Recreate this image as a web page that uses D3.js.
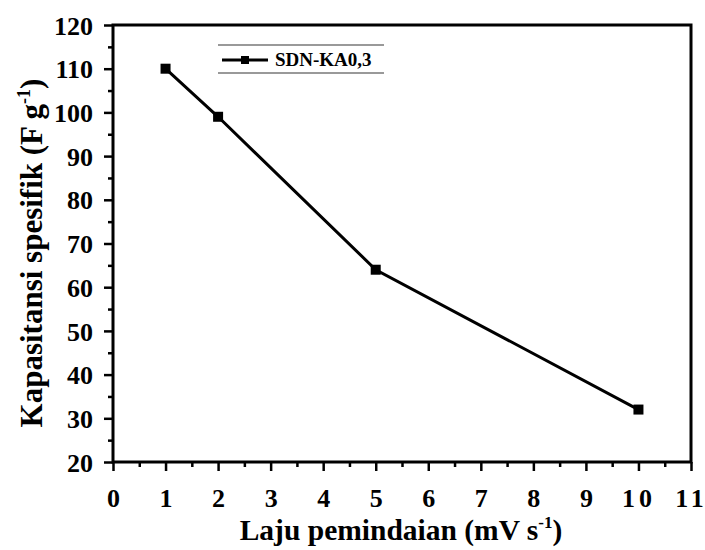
<!DOCTYPE html>
<html>
<head>
<meta charset="utf-8">
<script src="https://cdn.jsdelivr.net/npm/d3@7"></script>
<style>
    body { margin: 0; background: #fff; }
    text { font-family: "Liberation Serif", "Times New Roman", serif; font-weight: bold; fill: #000; }
</style>
</head>
<body>
<div id="chart"></div>
<script>
var scanRates = [1, 2, 5, 10];
var capacitance = [110, 99, 64, 32];
var seriesName = 'SDN-KA0,3';
var xTicks = [0, 1, 2, 3, 4, 5, 6, 7, 8, 9, 10, 11];
var yTicks = [20, 30, 40, 50, 60, 70, 80, 90, 100, 110, 120];

var width = 705, height = 550;
// plot box edges (window.top is taken, so no plain "top")
var pLeft = 113, pRight = 691, pTop = 25, pBottom = 462;

var svg = d3.select('#chart').append('svg').attr('width', width).attr('height', height);

var x = d3.scaleLinear().domain([0, 11]).range([pLeft, pRight]);
var y = d3.scaleLinear().domain([20, 120]).range([pBottom, pTop]);

// minor ticks sit half way between the majors
var xMinor = d3.range(0.5, 11, 1);
var yMinor = d3.range(25, 120, 10);

var xAxis = svg.append('g').attr('transform', 'translate(0,' + pBottom + ')')
    .call(d3.axisBottom(x).tickValues(xTicks).tickSize(9).tickPadding(18).tickFormat(d3.format('d')));
svg.append('g').attr('transform', 'translate(0,' + pBottom + ')')
    .call(d3.axisBottom(x).tickValues(xMinor).tickSize(5).tickFormat(''));

var yAxis = svg.append('g').attr('transform', 'translate(' + pLeft + ',0)')
    .call(d3.axisLeft(y).tickValues(yTicks).tickSize(9).tickPadding(11).tickFormat(d3.format('d')));
svg.append('g').attr('transform', 'translate(' + pLeft + ',0)')
    .call(d3.axisLeft(y).tickValues(yMinor).tickSize(5).tickFormat(''));

svg.selectAll('.domain').remove();
svg.selectAll('.tick line').attr('stroke', '#000').attr('stroke-width', 2.5);
xAxis.selectAll('.tick text').style('font-size', '26px').attr('dy', '0.71em')
    .style('letter-spacing', function (d) { return d >= 10 ? '4px' : null; });
yAxis.selectAll('.tick text').style('font-size', '26px').attr('dy', '0.35em');

// frame
svg.append('rect')
    .attr('x', pLeft).attr('y', pTop)
    .attr('width', pRight - pLeft).attr('height', pBottom - pTop)
    .attr('fill', 'none').attr('stroke', '#000').attr('stroke-width', 3);

var pts = scanRates.map(function (d, i) { return [d, capacitance[i]]; });

svg.append('path')
    .datum(pts)
    .attr('fill', 'none').attr('stroke', '#000').attr('stroke-width', 3)
    .attr('d', d3.line().x(function (d) { return x(d[0]); }).y(function (d) { return y(d[1]); }));

svg.selectAll('.pt').data(pts).enter().append('rect')
    .attr('class', 'pt')
    .attr('x', function (d) { return x(d[0]) - 5; })
    .attr('y', function (d) { return y(d[1]) - 5; })
    .attr('width', 10).attr('height', 10)
    .attr('fill', '#000');

// legend
var lg = svg.append('g');
lg.append('line').attr('x1', 218).attr('x2', 384).attr('y1', 45).attr('y2', 45).attr('stroke', '#777').attr('stroke-width', 1.5);
lg.append('line').attr('x1', 218).attr('x2', 384).attr('y1', 73).attr('y2', 73).attr('stroke', '#777').attr('stroke-width', 1.5);
lg.append('line').attr('x1', 222).attr('x2', 268).attr('y1', 60).attr('y2', 60).attr('stroke', '#000').attr('stroke-width', 3);
lg.append('rect').attr('x', 241).attr('y', 56).attr('width', 8).attr('height', 8).attr('fill', '#000');
lg.append('text').attr('x', 275).attr('y', 66).style('font-size', '19px').text(seriesName);

// axis titles
var xt = svg.append('text')
    .attr('x', 401).attr('y', 540)
    .attr('text-anchor', 'middle').style('font-size', '29.5px');
xt.append('tspan').text('Laju pemindaian (mV s');
xt.append('tspan').attr('dy', -12).style('font-size', '17px').text('-1');
xt.append('tspan').attr('dy', 12).text(')');

var yt = svg.append('text')
    .attr('transform', 'translate(42,253) rotate(-90)')
    .attr('text-anchor', 'middle').style('font-size', '31px');
yt.append('tspan').text('Kapasitansi spesifik (F g');
yt.append('tspan').attr('dy', -12).style('font-size', '18px').text('-1');
yt.append('tspan').attr('dy', 12).text(')');
</script>
</body>
</html>
